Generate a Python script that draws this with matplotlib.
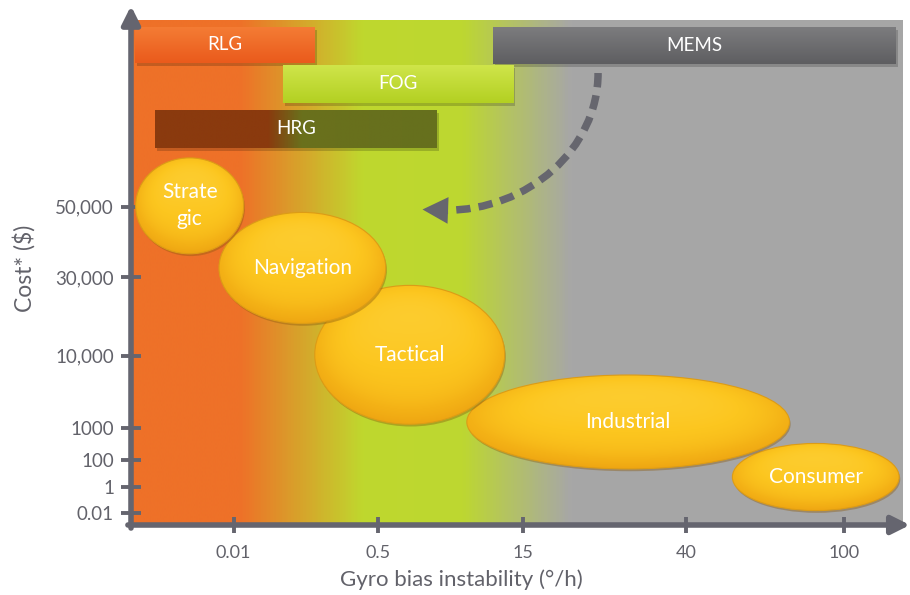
import numpy as np
import matplotlib
matplotlib.use("Agg")
import matplotlib.pyplot as plt
from matplotlib.colors import LinearSegmentedColormap
from matplotlib.patches import Ellipse, Rectangle, PathPatch, FancyArrowPatch
from matplotlib.path import Path

plt.rcParams['font.family'] = ['Lato', 'DejaVu Sans']

# ---- axis ticks (schematic, non-uniform scales) ----
x_tick_labels = ['0.01', '0.5', '15', '40', '100']
x_tick_pos = [13.3, 32.0, 50.8, 71.9, 92.4]
y_tick_labels = ['0.01', '1', '100', '1000', '10,000', '30,000', '50,000']
y_tick_pos = [2.4, 7.5, 12.9, 19.2, 33.5, 49.1, 63.0]

# ---- gyro technologies: horizontal ranges ----
tech_names = ['RLG', 'FOG', 'HRG', 'MEMS']
tech_x0 = [0.5, 19.7, 3.1, 46.9]
tech_x1 = [23.8, 49.5, 39.6, 99.1]
tech_y0 = [91.5, 83.6, 74.7, 91.3]
tech_y1 = [98.6, 91.1, 82.2, 98.6]

# ---- performance grades ----
grade_names = ['Strate\ngic', 'Navigation', 'Tactical', 'Industrial', 'Consumer']
grade_x = [7.6, 22.2, 36.1, 64.4, 88.7]
grade_y = [63.2, 50.9, 33.7, 20.4, 9.5]
grade_w = [14.0, 21.6, 24.6, 41.8, 21.6]
grade_h = [19.0, 22.0, 27.5, 18.6, 13.3]

# ---- trend arrow (MEMS moving toward higher grades) ----
arrow_start = (60.5, 89.5)
arrow_end = (40.6, 62.3)
arrow_tip = (37.4, 62.5)

axis_col = '#65656f'
tick_col = '#62626a'

fig = plt.figure(figsize=(9.1, 5.95), dpi=100)
ax = fig.add_axes([131 / 910, 70 / 595, 772 / 910, 505 / 595])
ax.set_xlim(0, 100)
ax.set_ylim(0, 100)

# background gradient: orange -> green -> gray
bg_cmap = LinearSegmentedColormap.from_list('bg', [
    (0.00, '#ee7128'), (0.14, '#ee7128'), (0.30, '#bfd82e'),
    (0.43, '#bdd731'), (0.57, '#a7a7a7'), (1.00, '#a6a6a6')])
ax.imshow(np.linspace(0, 1, 1000)[None, :], extent=[0, 100, 0, 100],
          cmap=bg_cmap, aspect='auto', origin='lower', zorder=0,
          interpolation='bilinear')

# technology bars
bar_cmaps = {
    'RLG': LinearSegmentedColormap.from_list('rlg', ['#ea5a1c', '#f47c34']),
    'FOG': LinearSegmentedColormap.from_list('fog', ['#b3d022', '#cfe54a']),
    'MEMS': LinearSegmentedColormap.from_list('mems', ['#5e5e61', '#7c7c7e']),
}
hrg_cmap = LinearSegmentedColormap.from_list('hrg', [
    (0.0, '#8a3a0e'), (0.40, '#8a3a0e'), (0.52, '#6a701c'), (1.0, '#66701e')])

for name, x0, x1, y0, y1 in zip(tech_names, tech_x0, tech_x1, tech_y0, tech_y1):
    ax.add_patch(Rectangle((x0 + 0.25, y0 - 0.6), x1 - x0, y1 - y0,
                           fc='black', alpha=0.18, ec='none', zorder=2))
    if name == 'HRG':
        grad = np.linspace(0, 1, 400)[None, :]
        cm = hrg_cmap
    else:
        grad = np.linspace(0, 1, 100)[:, None]
        cm = bar_cmaps[name]
    ax.imshow(grad, extent=[x0, x1, y0, y1], cmap=cm, aspect='auto',
              origin='lower', zorder=3, interpolation='bilinear')
    ax.text((x0 + x1) / 2, (y0 + y1) / 2, name, color='white', fontsize=13.5,
            ha='center', va='center', zorder=4)

# grade ellipses with a soft yellow gradient (lighter at the top)
ell_cmap = LinearSegmentedColormap.from_list('ell', ['#fdd23c', '#fcc61f', '#f4b216', '#eea512'])
yy, xx = np.mgrid[1:-1:200j, -1:1:200j]
ell_grad = np.clip(0.55 * (1 - yy) / 2 + 0.45 * (xx ** 2 + yy ** 2) ** 2, 0, 1)

n = len(grade_names)
for i, (name, cx, cy, w, h) in enumerate(zip(grade_names, grade_x, grade_y, grade_w, grade_h)):
    z = 5 + (n - i) * 4
    ax.add_patch(Ellipse((cx + 0.15, cy - 0.45), w, h, fc='#8a5a0e', alpha=0.4,
                         ec='none', zorder=z))
    e = Ellipse((cx, cy), w, h, fc='none', ec='#dc9c16', lw=0.8, zorder=z + 2)
    ax.add_patch(e)
    im = ax.imshow(ell_grad, extent=[cx - w / 2, cx + w / 2, cy - h / 2, cy + h / 2],
                   cmap=ell_cmap, aspect='auto', origin='upper', zorder=z + 1,
                   interpolation='bilinear', vmin=0, vmax=1)
    im.set_clip_path(e)
    ax.text(cx, cy, name, color='white', fontsize=15, ha='center', va='center',
            linespacing=1.45, zorder=z + 3)

# dashed curved arrow
(sx, sy), (ex, ey) = arrow_start, arrow_end
curve = Path([(sx, sy), (sx, sy - 0.55 * (sy - ey)), (ex + 0.55 * (sx - ex), ey), (ex, ey)],
             [Path.MOVETO, Path.CURVE4, Path.CURVE4, Path.CURVE4])
ax.add_patch(PathPatch(curve, fc='none', ec='#66666e', lw=5.4,
                       linestyle=(0, (1.9, 1.1)), capstyle='butt', zorder=4))
ax.add_patch(FancyArrowPatch((ex + 0.3, ey), arrow_tip,
                             arrowstyle='-|>,head_length=1.15,head_width=0.6',
                             mutation_scale=16, color='#66666e', lw=0, zorder=4))

# axes with arrowheads
for side in ['top', 'right', 'bottom', 'left']:
    ax.spines[side].set_visible(False)
ax.annotate('', xy=(0, 1.028), xytext=(0, -0.006), xycoords='axes fraction',
            arrowprops=dict(arrowstyle='-|>,head_length=0.9,head_width=0.45',
                            lw=4, color=axis_col, mutation_scale=12,
                            shrinkA=0, shrinkB=0),
            annotation_clip=False, zorder=30)
ax.annotate('', xy=(1.009, 0), xytext=(-0.004, 0), xycoords='axes fraction',
            arrowprops=dict(arrowstyle='-|>,head_length=0.9,head_width=0.45',
                            lw=4, color=axis_col, mutation_scale=12,
                            shrinkA=0, shrinkB=0),
            annotation_clip=False, zorder=30)

ax.set_xticks(x_tick_pos)
ax.set_xticklabels(x_tick_labels)
ax.set_yticks(y_tick_pos)
ax.set_yticklabels(y_tick_labels)
ax.tick_params(axis='x', direction='inout', length=11.5, width=2.8, color=axis_col,
               labelcolor=tick_col, labelsize=13, pad=9)
ax.tick_params(axis='y', direction='inout', length=14.5, width=2.8, color=axis_col,
               labelcolor=tick_col, labelsize=13.5, pad=5)

ax.set_xlabel('Gyro bias instability (°/h)', color=tick_col, fontsize=16)
ax.xaxis.set_label_coords((461 - 131) / 772, -0.087)
ax.set_ylabel('Cost* ($)', color=tick_col, fontsize=16.5)
ax.yaxis.set_label_coords(-0.124, 0.508)

ax.set_xlim(0, 100)
ax.set_ylim(0, 100)
fig.savefig('out.png', dpi=100)
